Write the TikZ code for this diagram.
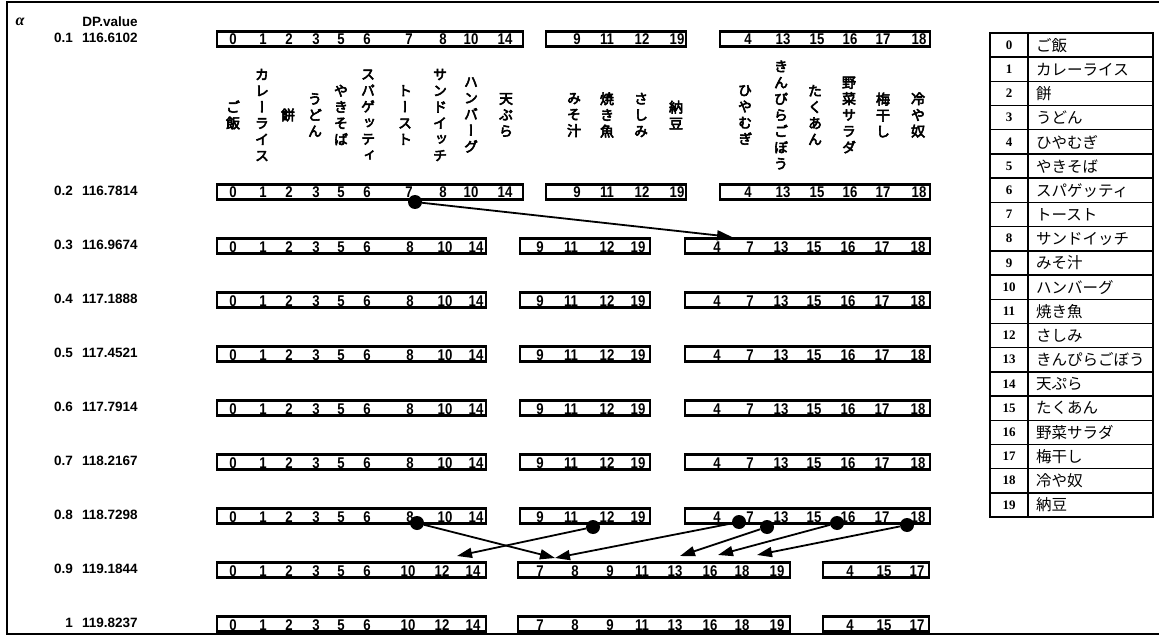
\documentclass[tikz,border=0pt]{standalone}
\usepackage{fontspec}
\setmainfont{Liberation Serif}
\setsansfont{Liberation Sans}
\newfontfamily\jpfont{Noto Sans CJK JP}
\newfontfamily\vjpfont[RawFeature=+vert, FakeBold=4]{Noto Sans CJK JP}
\newfontfamily\numfont[FakeStretch=0.85]{Liberation Sans}
\usetikzlibrary{arrows.meta,positioning}

% one box of a partition: tag, y, left, right, positions/numbers
\newcommand{\foodbox}[5]{%
  \draw[catbox] (#3,#2-6.5) rectangle (#4,#2+8.5);
  \foreach \px/\n in {#5} {\node[num] (#1-\n) at (\px,#2+7) {\n};}
}

\begin{document}
\begin{tikzpicture}[x=1pt,y=-1pt,
    catbox/.style={line width=2.4pt},
    num/.style={font=\fontsize{15.5}{15.5}\numfont\bfseries, inner sep=0pt, anchor=base},
    rowlbl/.style={font=\fontsize{13.5}{13.5}\sffamily\bfseries, inner sep=0pt},
    vlbl/.style={font=\fontsize{14}{16.2}\vjpfont, align=center, inner sep=0pt},
    keynum/.style={font=\fontsize{13}{13}\bfseries, inner sep=0pt},
    keytxt/.style={font=\fontsize{15.5}{15.5}\jpfont, inner sep=0pt, anchor=west},
    tbl/.style={line width=1.4pt},
    dot/.style={circle, fill, inner sep=0pt, minimum size=14pt},
    arr/.style={line width=1.8pt, -{Triangle[length=15pt,width=10pt]}}
]
\useasboundingbox (0,0) rectangle (1159,639);
% frame
\draw[line width=1.2pt] (1159,2) -- (7,2) -- (7,634) -- (1159,634);

% header
\node (alphahd) at (20,22) {\fontsize{16}{16}\selectfont\bfseries\itshape α};
\node[rowlbl] (dphd) at (110,22) {DP.value};
\foreach \y/\a/\v [count=\i] in {38/0.1/116.6102, 191/0.2/116.7814,
    245/0.3/116.9674, 299/0.4/117.1888, 353/0.5/117.4521,
    407/0.6/117.7914, 461/0.7/118.2167, 515/0.8/118.7298,
    569/0.9/119.1844, 623/1/119.8237} {
  \node[rowlbl, anchor=east] (alpha\i) at (73,\y) {\a};
  \node[rowlbl, anchor=west] (dp\i) at (82,\y) {\v};
}

% food names above the first partition
\foreach \x/\t [count=\i] in {233/{ご\\飯}, 262/{カ\\レ\\ー\\ラ\\イ\\ス}, 288/{餅},
    315/{う\\ど\\ん}, 341/{や\\き\\そ\\ば}, 368/{ス\\パ\\ゲ\\ッ\\テ\\ィ},
    405/{ト\\ー\\ス\\ト}, 440/{サ\\ン\\ド\\イ\\ッ\\チ}, 471/{ハ\\ン\\バ\\ー\\グ},
    506/{天\\ぷ\\ら}, 574/{み\\そ\\汁}, 607/{焼\\き\\魚}, 641/{さ\\し\\み},
    676/{納\\豆}, 745/{ひ\\や\\む\\ぎ}, 781/{き\\ん\\ぴ\\ら\\ご\\ぼ\\う},
    815/{た\\く\\あ\\ん}, 849/{野\\菜\\サ\\ラ\\ダ}, 883/{梅\\干\\し},
    918/{冷\\や\\奴}} {
  \node[vlbl] (food\i) at (\x,115) {\t};
}

% alpha = 0.1, 0.2
\foreach \t/\y in {r01/38, r02/191} {
  \foodbox{\t}{\y}{217}{523}{233/0, 263/1, 289/2, 316/3, 341/5, 367/6, 409/7, 443/8, 471/10, 505/14}
  \foodbox{\t}{\y}{546}{686}{577/9, 607/11, 642/12, 677/19}
  \foodbox{\t}{\y}{720}{930}{748/4, 783/13, 817/15, 850/16, 883/17, 919/18}
}
% alpha = 0.3 ... 0.8
\foreach \t/\y in {r03/245, r04/299, r05/353, r06/407, r07/461, r08/515} {
  \foodbox{\t}{\y}{217}{486}{233/0, 263/1, 289/2, 316/3, 341/5, 367/6, 410/8, 445/10, 476/14}
  \foodbox{\t}{\y}{520}{650}{540/9, 571/11, 607/12, 638/19}
  \foodbox{\t}{\y}{685}{930}{717/4, 750/7, 781/13, 814/15, 848/16, 882/17, 918/18}
}
% alpha = 0.9, 1
\foreach \t/\y in {r09/569, r10/623} {
  \foodbox{\t}{\y}{217}{486}{233/0, 263/1, 289/2, 316/3, 341/5, 367/6, 408/10, 442/12, 473/14}
  \foodbox{\t}{\y}{518}{790}{540/7, 575/8, 610/9, 642/11, 675/13, 710/16, 742/18, 777/19}
  \foodbox{\t}{\y}{823}{929}{850/4, 884/15, 917/17}
}

% moves between alpha levels
\node[dot] (p1) at (415,202) {};
\coordinate (q1) at (732,237);
\draw[arr] (p1) -- (q1);

\node[dot] (p2) at (417,523) {};
\node[dot] (p3) at (593,527) {};
\node[dot] (p4) at (739,522) {};
\node[dot] (p5) at (767,527) {};
\node[dot] (p6) at (837,523) {};
\node[dot] (p7) at (907,525) {};
\coordinate (q2) at (555,558);
\coordinate (q3) at (457,556);
\coordinate (q5) at (680,556);
\coordinate (q6) at (718,555);
\coordinate (q7) at (757,555);
\draw[arr] (p2) -- (q2);
\draw[arr] (p3) -- (q3);
\draw[arr] (p4) -- (q2);
\draw[arr] (p5) -- (q5);
\draw[arr] (p6) -- (q6);
\draw[arr] (p7) -- (q7);

% key of food numbers
\draw[tbl] (990,33) rectangle (1153,517);
\draw[tbl] (1028,33) -- (1028,517);
\foreach \i in {1,...,19} \draw[tbl] (990,33+\i*24.2) -- (1153,33+\i*24.2);
\foreach \t [count=\n from 0] in {ご飯, カレーライス, 餅, うどん, ひやむぎ, やきそば,
    スパゲッティ, トースト, サンドイッチ, みそ汁, ハンバーグ, 焼き魚, さしみ,
    きんぴらごぼう, 天ぷら, たくあん, 野菜サラダ, 梅干し, 冷や奴, 納豆} {
  \node[keynum] (k\n) at (1009,45.1+\n*24.2) {\n};
  \node[keytxt] (kt\n) at (1036,45.1+\n*24.2) {\t};
}
\end{tikzpicture}
\end{document}
